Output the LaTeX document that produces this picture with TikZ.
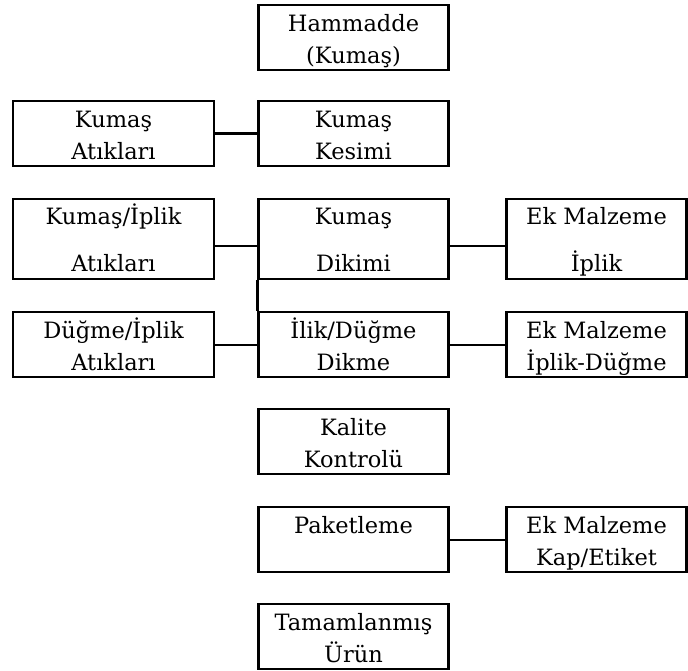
\documentclass[tikz,border=0pt]{standalone}
\usepackage{fontspec}
\setmainfont{DejaVu Serif}
\begin{document}
\begin{tikzpicture}[x=1pt,y=-1pt,
  box/.style={draw, line width=2.4pt, anchor=north, inner sep=0pt, align=center,
    font=\fontsize{22.5}{31.6}\selectfont, text height=58.3pt, text depth=6.7pt},
  onebox/.style={box, text height=26.7pt, text depth=38.3pt},
  tallbox/.style={box, text height=72pt, text depth=8pt},
  lcol/.style={minimum width=201pt},
  ccol/.style={minimum width=190pt},
  rcol/.style={minimum width=180pt},
  link/.style={line width=2.4pt}]
\useasboundingbox (0,0) rectangle (688,671);
\node[box,ccol] (ham) at (353.5,4) {Hammadde\\(Kumaş)};
\node[box,lcol] (katik) at (113.5,100) {Kumaş\\Atıkları};
\node[box,ccol] (kesim) at (353.5,100) {Kumaş\\Kesimi};
\node[tallbox,lcol] (kiatik) at (113.5,198) {Kumaş/İplik\\[15.4pt]Atıkları};
\node[tallbox,ccol] (dikim) at (353.5,198) {Kumaş\\[15.4pt]Dikimi};
\node[tallbox,rcol] (ekip) at (596.5,198) {Ek Malzeme\\[15.4pt]İplik};
\node[box,lcol] (dui) at (113.5,311) {Düğme/İplik\\Atıkları};
\node[box,ccol] (ilik) at (353.5,311) {İlik/Düğme\\Dikme};
\node[box,rcol] (ekid) at (596.5,311) {Ek Malzeme\\İplik-Düğme};
\node[box,ccol] (kalite) at (353.5,408) {Kalite\\Kontrolü};
\node[onebox,ccol] (paket) at (353.5,506) {Paketleme};
\node[box,rcol] (ekkap) at (596.5,506) {Ek Malzeme\\Kap/Etiket};
\node[box,ccol] (tam) at (353.5,603) {Tamamlanmış\\Ürün};
\draw[link] (katik.east) -- (kesim.west);
\draw[link] ([yshift=-7pt]kiatik.east) -- ([yshift=-7pt]dikim.west);
\draw[link] ([yshift=-7pt]dikim.east) -- ([yshift=-7pt]ekip.west);
\draw[link] (dikim.south west) -- (ilik.north west);
\draw[link] (dui.east) -- (ilik.west);
\draw[link] (ilik.east) -- (ekid.west);
\draw[link] (paket.east) -- (ekkap.west);
\end{tikzpicture}
\end{document}
